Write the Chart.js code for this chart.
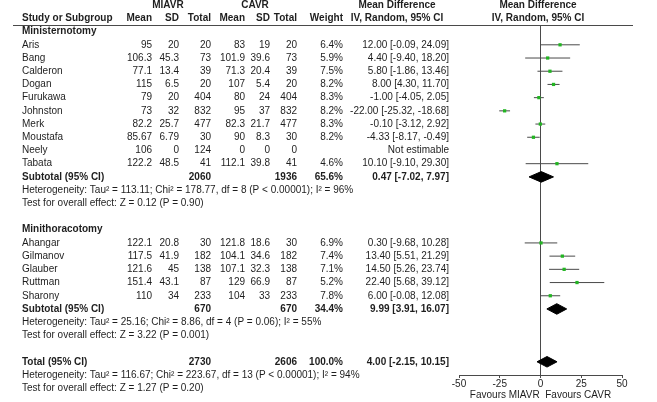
<!DOCTYPE html>
<html><head><meta charset="utf-8">
<script src="https://cdn.jsdelivr.net/npm/chart.js@4"></script>
<style>html,body{margin:0;padding:0;background:#fff;}#wrap{width:657px;height:402px;}</style>
</head><body><div id="wrap"><canvas id="c" width="657" height="402"></canvas></div>
<script>
// ---------- data ----------
const studyNames = ['Aris','Bang','Calderon','Dogan','Furukawa','Johnston','Merk','Moustafa','Neely','Tabata','Ahangar','Gilmanov','Glauber','Ruttman','Sharony'];
const studyRows  = [3,4,5,6,7,8,9,10,11,12,18,19,20,21,22];
const miavrMean  = [95,106.3,77.1,115,79,73,82.2,85.67,106,122.2,122.1,117.5,121.6,151.4,110];
const miavrSD    = [20,45.3,13.4,6.5,20,32,25.7,6.79,0,48.5,20.8,41.9,45,43.1,34];
const miavrN     = [20,73,39,20,404,832,477,30,124,41,30,182,138,87,233];
const cavrMean   = [83,101.9,71.3,107,80,95,82.3,90,0,112.1,121.8,104.1,107.1,129,104];
const cavrSD     = [19,39.6,20.4,5.4,24,37,21.7,8.3,0,39.8,18.6,34.6,32.3,66.9,33];
const cavrN      = [20,73,39,20,404,832,477,30,0,41,30,182,138,87,233];
const weights    = [6.4,5.9,7.5,8.2,8.3,8.2,8.3,8.2,null,4.6,6.9,7.4,7.1,5.2,7.8];
const meanDiff   = [12.00,4.40,5.80,8.00,-1.00,-22.00,-0.10,-4.33,null,10.10,0.30,13.40,14.50,22.40,6.00];
const ciLow      = [-0.09,-9.40,-1.86,4.30,-4.05,-25.32,-3.12,-8.17,null,-9.10,-9.68,5.51,5.26,5.68,-0.08];
const ciHigh     = [24.09,18.20,13.46,11.70,2.05,-18.68,2.92,-0.49,null,29.30,10.28,21.29,23.74,39.12,12.08];

const groupNames = ['Ministernotomy','Minithoracotomy'];
const groupRows  = [2,17];

const summaryLabels = ['Subtotal (95% CI)','Subtotal (95% CI)','Total (95% CI)'];
const summaryRows   = [13,23,27];
const summaryMiavrN = [2060,670,2730];
const summaryCavrN  = [1936,670,2606];
const summaryWeight = [65.6,34.4,100.0];
const summaryMD     = [0.47,9.99,4.00];
const summaryLow    = [-7.02,3.91,-2.15];
const summaryHigh   = [7.97,16.07,10.15];

const statTexts = [
  'Heterogeneity: Tau\u00B2 = 113.11; Chi\u00B2 = 178.77, df = 8 (P < 0.00001); I\u00B2 = 96%',
  'Test for overall effect: Z = 0.12 (P = 0.90)',
  'Heterogeneity: Tau\u00B2 = 25.16; Chi\u00B2 = 8.86, df = 4 (P = 0.06); I\u00B2 = 55%',
  'Test for overall effect: Z = 3.22 (P = 0.001)',
  'Heterogeneity: Tau\u00B2 = 116.67; Chi\u00B2 = 223.67, df = 13 (P < 0.00001); I\u00B2 = 94%',
  'Test for overall effect: Z = 1.27 (P = 0.20)'
];
const statRows = [14,15,24,25,28,29];

const axisTicks = [-50,-25,0,25,50];
const axisTitle = 'Favours MIAVR  Favours CAVR';

// ---------- layout / style ----------
const FONT = '"Liberation Sans", Arial, sans-serif';
const TXT = '#1e1e1e';
const LINE = '#4a4a4a';
const MARK = '#22b522';
const col = {name:22, mMean:152, mSD:179, mN:211, cMean:245, cSD:270, cN:297, w:343, ci:449, ciHead:397, plotHead:538, mHead:168, cHead:255};

// ---------- datasets ----------
const datasets = [];
datasets.push({type:'line', data:[{x:0,y:1.5},{x:0,y:28}], borderColor:LINE, borderWidth:1, pointRadius:0, order:5});
studyNames.forEach((n,i)=>{
  if (meanDiff[i] === null) return;
  datasets.push({type:'line', data:[{x:ciLow[i],y:studyRows[i]},{x:ciHigh[i],y:studyRows[i]}],
    borderColor:LINE, borderWidth:1, pointRadius:0, order:4});
});
summaryRows.forEach((r,i)=>{
  const h = 0.4;
  datasets.push({type:'line', data:[{x:summaryLow[i],y:r},{x:summaryMD[i],y:r-h},{x:summaryHigh[i],y:r},{x:summaryMD[i],y:r+h},{x:summaryLow[i],y:r}],
    borderColor:'#000', backgroundColor:'#000', borderWidth:1, pointRadius:0, fill:'shape', tension:0, order:3});
});
datasets.push({type:'scatter', data: studyNames.map((n,i)=> meanDiff[i]===null?null:{x:meanDiff[i],y:studyRows[i]}).filter(p=>p),
  pointStyle:'rect', pointRadius:2.3, backgroundColor:MARK, borderColor:MARK, borderWidth:0, order:1});

const fmt2 = v => v.toFixed(2);

const tablePlugin = {
  id:'table',
  afterDraw(chart){
    const ctx = chart.ctx, ys = chart.scales.y;
    const Y = r => ys.getPixelForValue(r);
    ctx.save();
    ctx.fillStyle = TXT;
    ctx.textBaseline = 'middle';
    const t = (s,x,r,align,bold) => { ctx.font = (bold?'bold ':'')+'10px '+FONT; ctx.textAlign = align; ctx.fillText(s,x,Y(r)); };
    // headers
    t('MIAVR',col.mHead,0,'center',true);
    t('CAVR',col.cHead,0,'center',true);
    t('Mean Difference',col.ciHead,0,'center',true);
    t('Mean Difference',col.plotHead,0,'center',true);
    t('Study or Subgroup',col.name,1,'left',true);
    t('Mean',col.mMean,1,'right',true); t('SD',col.mSD,1,'right',true); t('Total',col.mN,1,'right',true);
    t('Mean',col.cMean,1,'right',true); t('SD',col.cSD,1,'right',true); t('Total',col.cN,1,'right',true);
    t('Weight',col.w,1,'right',true);
    t('IV, Random, 95% CI',col.ciHead,1,'center',true);
    t('IV, Random, 95% CI',col.plotHead,1,'center',true);
    // header rule
    ctx.strokeStyle = LINE; ctx.lineWidth = 1;
    ctx.beginPath(); ctx.moveTo(13, Math.round(Y(1.5))+0.5); ctx.lineTo(633, Math.round(Y(1.5))+0.5); ctx.stroke();
    groupNames.forEach((g,i)=>t(g,col.name,groupRows[i],'left',true));
    studyNames.forEach((n,i)=>{
      const r = studyRows[i];
      t(n,col.name,r,'left',false);
      t(String(miavrMean[i]),col.mMean,r,'right'); t(String(miavrSD[i]),col.mSD,r,'right'); t(String(miavrN[i]),col.mN,r,'right');
      t(String(cavrMean[i]),col.cMean,r,'right'); t(String(cavrSD[i]),col.cSD,r,'right'); t(String(cavrN[i]),col.cN,r,'right');
      if (weights[i]!==null) t(weights[i].toFixed(1)+'%',col.w,r,'right');
      t(meanDiff[i]===null ? 'Not estimable' : fmt2(meanDiff[i])+' ['+fmt2(ciLow[i])+', '+fmt2(ciHigh[i])+']', col.ci, r, 'right');
    });
    summaryRows.forEach((r,i)=>{
      t(summaryLabels[i],col.name,r,'left',true);
      t(String(summaryMiavrN[i]),col.mN,r,'right',true);
      t(String(summaryCavrN[i]),col.cN,r,'right',true);
      t(summaryWeight[i].toFixed(1)+'%',col.w,r,'right',true);
      t(fmt2(summaryMD[i])+' ['+fmt2(summaryLow[i])+', '+fmt2(summaryHigh[i])+']',col.ci,r,'right',true);
    });
    statTexts.forEach((s,i)=>t(s,col.name,statRows[i],'left',false));
    ctx.restore();
  }
};

new Chart(document.getElementById('c'), {
  data:{datasets},
  options:{
    responsive:false, animation:false, devicePixelRatio:1,
    layout:{padding:{left:459,right:35,top:25,bottom:0}},
    plugins:{legend:{display:false}, tooltip:{enabled:false}},
    scales:{
      x:{type:'linear', min:-50, max:50,
        afterBuildTicks: s => { s.ticks = axisTicks.map(v=>({value:v})); },
        afterFit: s => { s.height = 27; },
        grid:{drawOnChartArea:false, tickLength:3, color:LINE},
        border:{color:LINE},
        ticks:{color:TXT, font:{size:10, family:FONT}, padding:0, maxRotation:0},
        title:{display:true, text:axisTitle, color:TXT, font:{size:10, family:FONT}, padding:{top:0,bottom:1}}
      },
      y:{type:'linear', reverse:true, min:1.5, max:28, display:false}
    }
  },
  plugins:[tablePlugin]
});
</script></body></html>
